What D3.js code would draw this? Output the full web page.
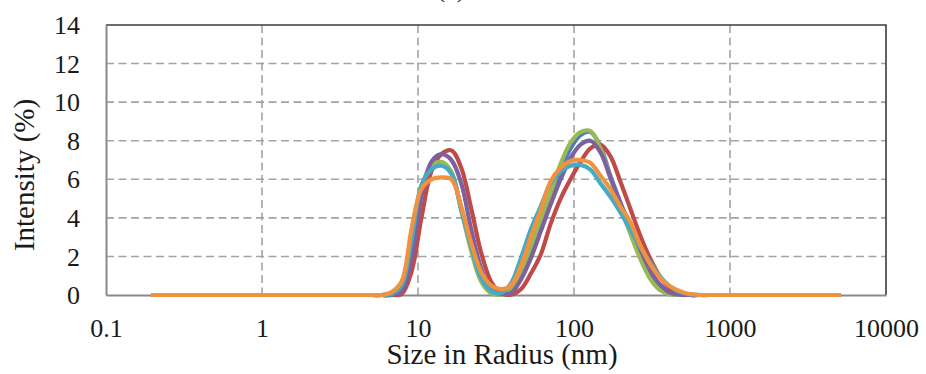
<!DOCTYPE html>
<html>
<head>
<meta charset="utf-8">
<script src="https://cdn.jsdelivr.net/npm/d3@7"></script>
</head>
<body style="margin:0">
<svg id="chart" width="926" height="374" font-family="Liberation Serif" style="display:block"></svg>
<script>
// Size classes (radius, nm) of the DLS intensity distribution
const sizes = [0.2, 5.05, 5.85, 6.77, 7.85, 9.08, 10.52, 12.18, 14.11, 16.35, 18.93,
  21.92, 25.38, 29.39, 34.03, 39.41, 45.64, 52.85, 61.2, 70.9, 82.1, 95.0, 110.1,
  127.5, 147.6, 170.9, 197.9, 229.2, 265.4, 307.3, 355.9, 412.1, 477.2, 552.6,
  640.0, 741.1, 858.2, 5000];

// Intensity (%) of each measurement at the size classes above
const run1 = [0, 0, 0, 0.03, 0.4, 2.6, 5.6, 6.6, 6.8, 6.3, 4.5, 2.5, 0.9, 0.15, 0.05, 0.3,
  1.0, 2.2, 3.6, 5.0, 6.4, 7.6, 8.3, 8.45, 7.7, 6.2, 4.8, 3.5, 2.3, 1.2, 0.5, 0.15, 0.03,
  0, 0, 0, 0, 0];
const run2 = [0, 0, 0, 0, 0.05, 1.2, 4.0, 6.4, 7.3, 7.5, 6.6, 4.5, 2.2, 0.7, 0.1, 0.02,
  0.3, 1.1, 2.1, 3.7, 5.0, 6.0, 6.9, 7.6, 7.8, 7.2, 5.9, 4.5, 3.1, 1.9, 0.95, 0.35, 0.05,
  0, 0, 0, 0, 0];
const run3 = [0, 0, 0, 0.03, 0.4, 2.6, 5.6, 6.7, 6.9, 6.4, 4.4, 2.3, 0.7, 0.1, 0.02, 0.3,
  1.2, 2.5, 3.9, 5.3, 6.8, 7.9, 8.45, 8.5, 7.6, 6.1, 4.6, 3.2, 1.9, 0.85, 0.25, 0.03, 0,
  0, 0, 0, 0, 0];
const run4 = [0, 0, 0, 0, 0.2, 1.9, 5.1, 6.9, 7.3, 7.0, 5.8, 3.4, 1.4, 0.3, 0.05, 0.1,
  0.8, 1.9, 3.3, 4.7, 6.0, 7.1, 7.8, 8.0, 7.4, 6.1, 4.8, 3.6, 2.4, 1.3, 0.55, 0.12, 0.02,
  0, 0, 0, 0, 0];
const run5 = [0, 0, 0, 0.05, 0.5, 2.8, 5.7, 6.5, 6.7, 6.3, 4.4, 2.5, 0.9, 0.2, 0.1, 0.6,
  1.9, 3.4, 4.6, 5.8, 6.4, 6.7, 6.75, 6.5, 5.8, 5.1, 4.3, 3.4, 2.5, 1.7, 0.95, 0.45, 0.15,
  0.03, 0, 0, 0, 0];
const run6 = [0, 0, 0, 0.15, 0.7, 3.4, 5.5, 6.0, 6.1, 6.0, 4.6, 2.7, 1.2, 0.5, 0.3, 0.5,
  1.5, 3.0, 4.4, 5.9, 6.6, 6.95, 7.0, 6.85, 6.2, 5.5, 4.6, 3.8, 2.6, 1.6, 0.9, 0.45, 0.2,
  0.05, 0, 0, 0, 0];

const runColors = ["#4a7ebb", "#be4b48", "#98b954", "#7d60a0", "#46aac5", "#f0923e"];

const xTicks = [0.1, 1, 10, 100, 1000, 10000];
const xTickLabels = ["0.1", "1", "10", "100", "1000", "10000"];
const yTicks = [0, 2, 4, 6, 8, 10, 12, 14];
const yTickLabels = ["0", "2", "4", "6", "8", "10", "12", "14"];

const xTitle = "Size in Radius (nm)";
const yTitle = "Intensity (%)";
const panelLabel = "(a)";

const runs = [run1, run2, run3, run4, run5, run6];

const INK = "#1a1a1a";

const svg = d3.select("#chart");
const plot = { left: 106, right: 886, top: 25, bottom: 295 };

const x = d3.scaleLog().domain([0.1, 10000]).range([plot.left, plot.right]);
const y = d3.scaleLinear().domain([0, 14]).range([plot.bottom, plot.top]);

// Dashed gridlines
const grid = svg.append("g").attr("stroke", "#a3a3a3").attr("stroke-width", 1.6)
  .attr("stroke-dasharray", "8,4.5");
grid.selectAll("line.h").data(yTicks.filter(d => d > 0 && d < 14)).join("line")
  .attr("class", "h")
  .attr("x1", plot.left).attr("x2", plot.right)
  .attr("y1", d => y(d)).attr("y2", d => y(d));
grid.selectAll("line.v").data(xTicks.filter(d => d > 0.1 && d < 10000)).join("line")
  .attr("class", "v")
  .attr("x1", d => x(d)).attr("x2", d => x(d))
  .attr("y1", plot.top).attr("y2", plot.bottom);

// Plot-area border (top and right)
svg.append("path")
  .attr("d", `M${plot.left},${plot.top}H${plot.right}V${plot.bottom}`)
  .attr("fill", "none").attr("stroke", "#3c3c3c").attr("stroke-width", 1.6);

// Axes (tick labels use the serif face of the svg root)
const xAxis = svg.append("g").attr("transform", `translate(0,${plot.bottom})`)
  .call(d3.axisBottom(x).tickValues(xTicks)
    .tickFormat((d, i) => xTickLabels[i]).tickSize(0).tickPadding(0));
xAxis.attr("font-family", "Liberation Serif").attr("font-size", 26);
xAxis.select(".domain").attr("stroke", "#8a8a8a").attr("stroke-width", 2);
xAxis.selectAll("text").attr("dy", null).attr("y", 42).attr("fill", INK);

const yAxis = svg.append("g").attr("transform", `translate(${plot.left},0)`)
  .call(d3.axisLeft(y).tickValues(yTicks)
    .tickFormat((d, i) => yTickLabels[i]).tickSize(0).tickPadding(26));
yAxis.attr("font-family", "Liberation Serif").attr("font-size", 26);
yAxis.select(".domain").attr("stroke", "#8a8a8a").attr("stroke-width", 2);
yAxis.selectAll("text").attr("dy", "0.33em").attr("fill", INK);

// Distribution curves
const line = d3.line()
  .x(d => x(d[0]))
  .y(d => y(d[1]))
  .curve(d3.curveCatmullRom.alpha(0.5));

svg.append("g").selectAll("path").data(runs).join("path")
  .attr("d", vals => line(sizes.map((s, i) => [s, vals[i]])))
  .attr("fill", "none")
  .attr("stroke", (d, i) => runColors[i])
  .attr("stroke-width", 4.2)
  .attr("stroke-linejoin", "round")
  .attr("stroke-linecap", "round");

// Titles
svg.append("text").attr("x", 502).attr("y", 364).attr("text-anchor", "middle")
  .attr("fill", INK).attr("font-size", 29).text(xTitle);
svg.append("text").attr("transform", "translate(34,175) rotate(-90)")
  .attr("fill", INK).attr("text-anchor", "middle").attr("font-size", 29).text(yTitle);
svg.append("text").attr("x", 451).attr("y", -3).attr("text-anchor", "middle")
  .attr("fill", INK).attr("font-size", 26).text(panelLabel);
</script>
</body>
</html>
